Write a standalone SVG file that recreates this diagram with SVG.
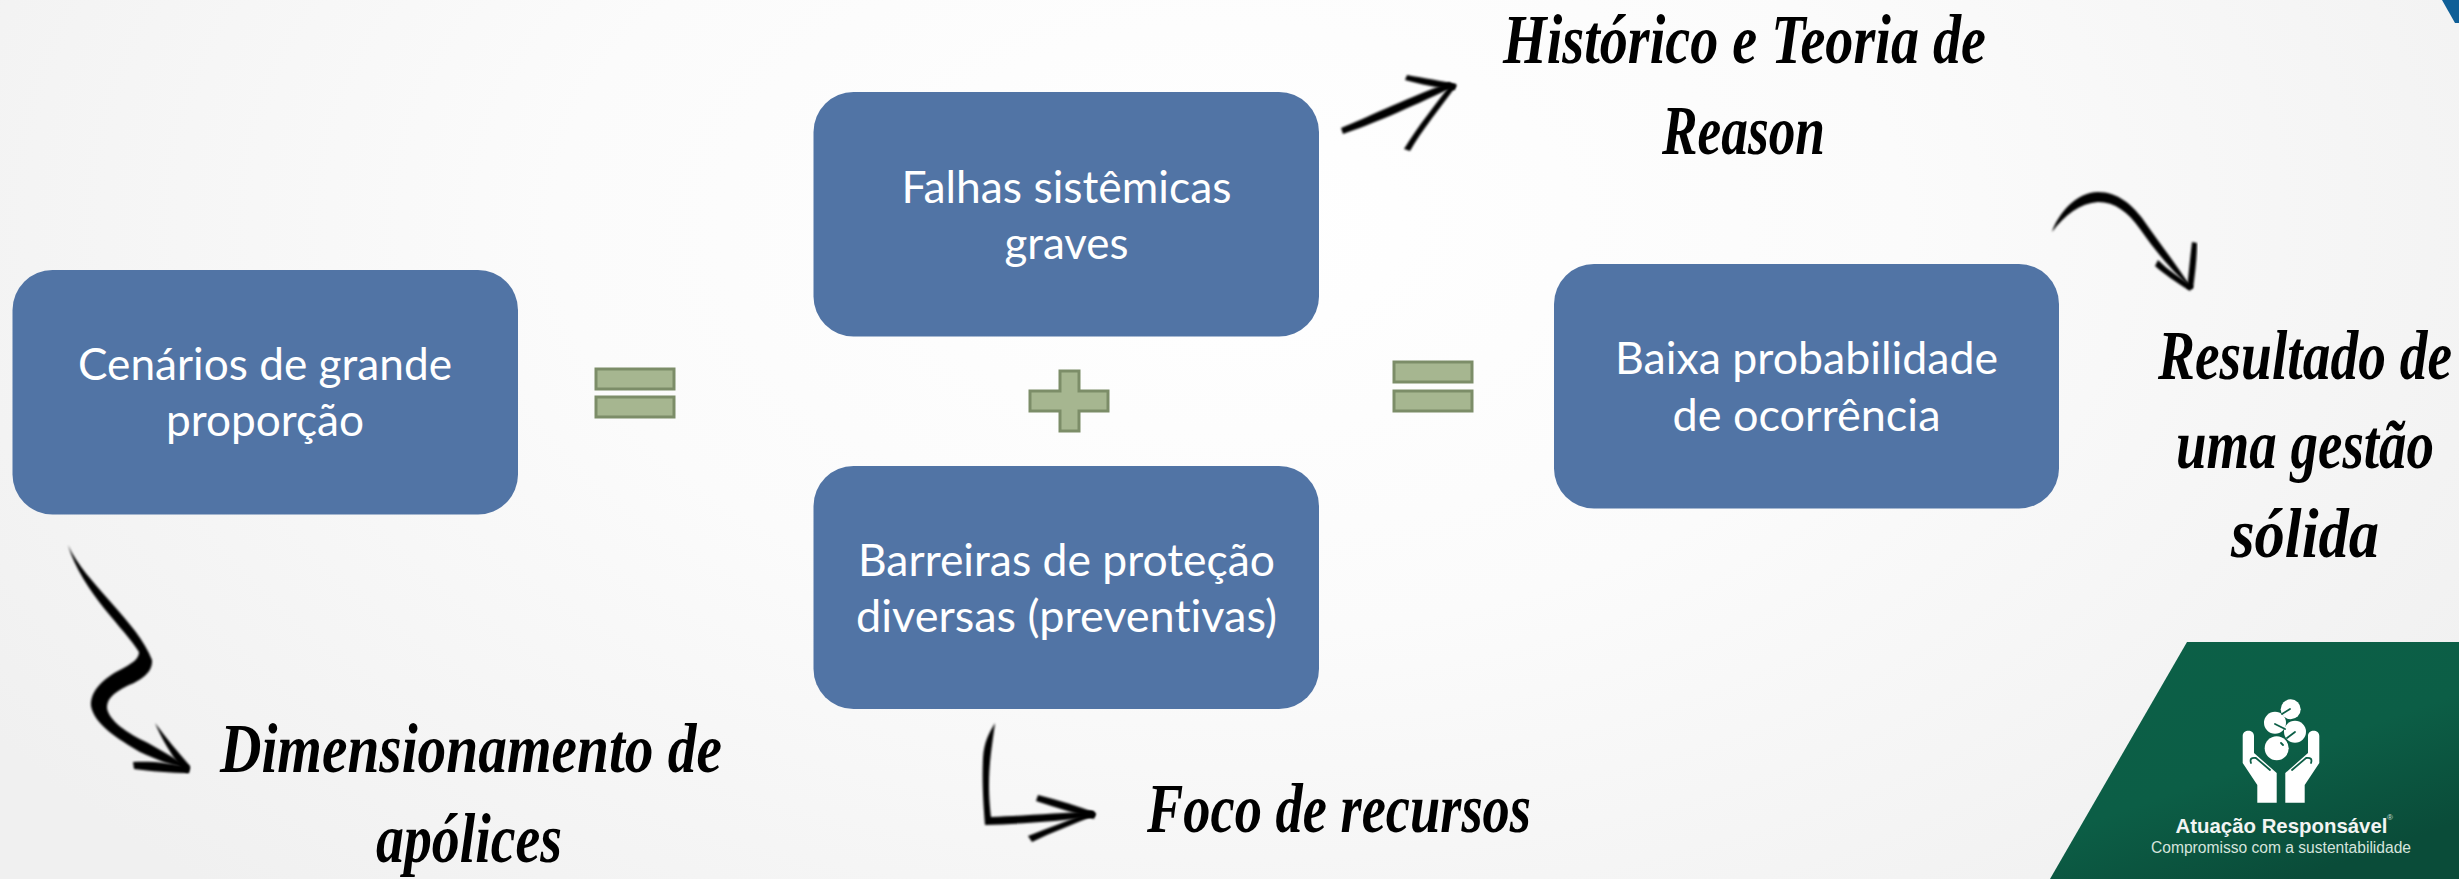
<svg xmlns="http://www.w3.org/2000/svg" width="2459" height="879" viewBox="0 0 2459 879">
<defs>
<radialGradient id="bg" gradientUnits="userSpaceOnUse" cx="1230" cy="180" r="1500" gradientTransform="translate(0 120) scale(1 0.6)">
<stop offset="0" stop-color="#ffffff"/><stop offset="0.45" stop-color="#fbfbfb"/><stop offset="1" stop-color="#f0f0f0"/>
</radialGradient>
<linearGradient id="green" x1="0" y1="0" x2="0.6" y2="1">
<stop offset="0" stop-color="#0c6047"/><stop offset="0.6" stop-color="#0c5e46"/><stop offset="1" stop-color="#0a4c39"/>
</linearGradient>
<filter id="brush" x="-10%" y="-10%" width="120%" height="120%"><feGaussianBlur stdDeviation="0.8"/></filter>
<style>
.box{fill:#5174a5;stroke:none}
.t{font-family:"Lato","Liberation Sans",sans-serif;font-size:45px;fill:#fff;text-anchor:middle;font-variant-ligatures:none}
.h{font-family:"Liberation Serif",serif;font-style:italic;font-weight:700;font-size:56px;fill:#000}
.op{fill:#a6b690;stroke:#7c8d68;stroke-width:3}
.ink{fill:#000;stroke:none;filter:url(#brush)}
.slit{fill:none;stroke:#0c5e46;stroke-width:1.8;stroke-linecap:round}
</style>
</defs>
<rect id="background" width="2459" height="879" fill="url(#bg)"/>
<path id="corner" d="M2442 0L2459 0L2459 23L2455 23Z" fill="#0f5f97"/>

<g id="node-cenarios"><rect class="box" x="12.500" y="270" width="505.500" height="244.500" rx="40"/>
<text class="t" x="265" y="380" textLength="374" lengthAdjust="spacingAndGlyphs">Cenários de grande</text>
<text class="t" x="265" y="436" textLength="198" lengthAdjust="spacingAndGlyphs">proporção</text></g>
<g id="node-falhas"><rect class="box" x="813.500" y="92" width="505.500" height="244.500" rx="40"/>
<text class="t" x="1066.500" y="203" textLength="330" lengthAdjust="spacingAndGlyphs">Falhas sistêmicas</text>
<text class="t" x="1066.500" y="259" textLength="124" lengthAdjust="spacingAndGlyphs">graves</text></g>
<g id="node-barreiras"><rect class="box" x="813.500" y="466" width="505.500" height="243" rx="40"/>
<text class="t" x="1066.500" y="576" textLength="417" lengthAdjust="spacingAndGlyphs">Barreiras de proteção</text>
<text class="t" x="1066.500" y="632" textLength="421" lengthAdjust="spacingAndGlyphs">diversas (preventivas)</text></g>
<g id="node-baixa"><rect class="box" x="1554" y="264" width="505" height="244.500" rx="40"/>
<text class="t" x="1806.500" y="374" textLength="383" lengthAdjust="spacingAndGlyphs">Baixa probabilidade</text>
<text class="t" x="1806.500" y="431" textLength="268" lengthAdjust="spacingAndGlyphs">de ocorrência</text></g>

<g id="op-equals-1"><rect class="op" x="596" y="369" width="78" height="20"/><rect class="op" x="596" y="397" width="78" height="20"/></g>
<g id="op-plus"><path class="op" d="M1060 371H1079V391H1108V411H1079V431H1060V411H1030V391H1060Z"/></g>
<g id="op-equals-2"><rect class="op" x="1394" y="362" width="78" height="20"/><rect class="op" x="1394" y="391" width="78" height="20"/></g>

<g id="connectors">
<path class="ink" d="M68 545C85 583 138 622 152 660C153 672 142 680 127 686C112 694 107 699 107 708C109 721 127 733 148 743C162 751 176 759 189 767C172 767 156 759 140 752C118 739 94 724 91 706C90 690 105 678 118 671C133 663 139 659 139 652C126 630 82 592 68 545Z"/>
<path class="ink" d="M155 723C166 738 178 752 190 766L188 773L182 770C172 755 162 740 155 723Z"/>
<path class="ink" d="M133 762C150 761 172 763 190 767L189 773C170 773 150 771 134 769Z"/>
<path class="ink" d="M1341 128C1366 118 1398 102 1450 82L1453 87C1405 110 1372 124 1343 134Z"/>
<path class="ink" d="M1407 75C1424 78 1442 81 1456 84L1455 90C1438 88 1420 84 1405 80Z"/>
<path class="ink" d="M1451 84L1457 85C1440 108 1422 130 1410 151L1404 149C1418 126 1436 104 1451 84Z"/>
<path class="ink" d="M2052 232C2058 214 2076 192 2098 192C2118 192 2132 205 2142 218C2157 240 2177 265 2192 289C2173 272 2156 252 2140 229C2128 212 2115 202 2098 202C2080 203 2065 215 2052 232Z"/>
<path class="ink" d="M2192 242L2197 243C2197 258 2195 274 2193 289L2187 288C2189 272 2190 258 2192 242Z"/>
<path class="ink" d="M2158 260C2168 270 2180 278 2193 286L2190 291C2176 282 2164 274 2155 266Z"/>
<path class="ink" d="M995 723C993 740 989 760 989 785C989 798 990 808 991 817C1020 816 1060 813 1094 811L1094 817C1060 821 1020 824 985 825C983 800 982 780 983 758C984 742 989 733 995 723Z"/>
<path class="ink" d="M1038 795C1058 800 1078 806 1096 813L1094 819C1074 813 1054 807 1036 801Z"/>
<path class="ink" d="M1091 811L1096 815C1074 824 1052 832 1032 842L1028 836C1048 828 1070 820 1091 811Z"/>
</g>

<g id="notes">
<text class="h" transform="translate(220 772) scale(1 1.25)" textLength="502" lengthAdjust="spacingAndGlyphs">Dimensionamento de</text>
<text class="h" transform="translate(376 862) scale(1 1.25)" textLength="186" lengthAdjust="spacingAndGlyphs">apólices</text>
<text class="h" transform="translate(1503 63) scale(1 1.25)" textLength="483" lengthAdjust="spacingAndGlyphs">Histórico e Teoria de</text>
<text class="h" transform="translate(1662 154) scale(1 1.25)" textLength="163" lengthAdjust="spacingAndGlyphs">Reason</text>
<text class="h" transform="translate(1147 832) scale(1 1.25)" textLength="384" lengthAdjust="spacingAndGlyphs">Foco de recursos</text>
<text class="h" transform="translate(2158 379) scale(1 1.25)" textLength="294" lengthAdjust="spacingAndGlyphs">Resultado de</text>
<text class="h" transform="translate(2176 468) scale(1 1.25)" textLength="258" lengthAdjust="spacingAndGlyphs">uma gestão</text>
<text class="h" transform="translate(2231 557) scale(1 1.25)" textLength="148" lengthAdjust="spacingAndGlyphs">sólida</text>
</g>

<g id="logo">
<path d="M2187 642H2459V879H2050Z" fill="url(#green)"/>
<g id="logo-hand-left">
<path fill="#fff" d="M2242.700 736C2242.700 729 2254 729 2254 736V753L2276.700 773V802.700H2257.300V785L2242.700 763Z"/>
<path class="slit" d="M2251 763Q2249 757 2256 758L2270 770"/>
</g>
<g id="logo-hand-right" transform="matrix(-1 0 0 1 4562 0)">
<path fill="#fff" d="M2242.700 736C2242.700 729 2254 729 2254 736V753L2276.700 773V802.700H2257.300V785L2242.700 763Z"/>
<path class="slit" d="M2251 763Q2249 757 2256 758L2270 770"/>
</g>
<g id="logo-balls">
<circle cx="2276.700" cy="748.300" r="12" fill="#fff"/>
<circle cx="2275" cy="722.700" r="11" fill="#fff"/>
<circle cx="2295" cy="731.700" r="11" fill="#fff"/>
<circle cx="2290.700" cy="709.300" r="10" fill="#fff"/>
<path class="slit" d="M2275 724L2285 729M2287 738L2295 732M2282 714L2290 709M2281 743L2283 745"/>
</g>
<text x="2281.500" y="833" font-family="Liberation Sans, sans-serif" font-weight="700" font-size="20.400px" fill="#f2f5f3" text-anchor="middle">Atuação Responsável</text>
<text x="2387" y="820" font-family="Liberation Sans, sans-serif" font-size="8px" fill="#d6e0db">®</text>
<text x="2281" y="853" font-family="Liberation Sans, sans-serif" font-size="15.600px" fill="#d6e4dd" text-anchor="middle">Compromisso com a sustentabilidade</text>
</g>
</svg>
